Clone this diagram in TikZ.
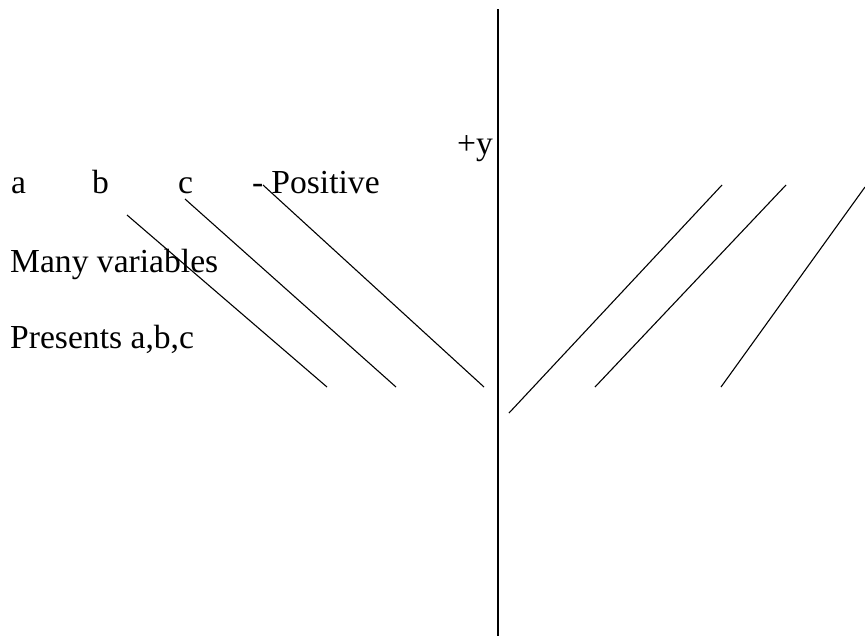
\documentclass[tikz,border=0pt]{standalone}
\usepackage{fontspec}
\setmainfont{Liberation Serif}
\begin{document}
\begin{tikzpicture}[x=1pt,y=-1pt,
  lbl/.style={anchor=base west,inner sep=0pt,font=\fontsize{33.6}{40}\selectfont},
  slant/.style={line width=1.1pt,line cap=butt},
  axis/.style={line width=1.6pt}]
\useasboundingbox (0,0) rectangle (865,638);
% vertical axis
\coordinate (ytop) at (498,9);
\coordinate (ybot) at (498,636);
\draw[axis] (ytop) -- (ybot);
% labels
\node[lbl] (ty) at (457,154) {+y};
\node[lbl] (ta) at (11,193) {a};
\node[lbl] (tb) at (92,193) {b};
\node[lbl] (tc) at (178,193) {c};
\node[lbl] (tp) at (252,193) {-\kern8pt Positive};
\node[lbl] (tm) at (10,272) {Many variables};
\node[lbl] (tq) at (10,348) {Presents a,b,c};
% left slanted lines
\coordinate (l1a) at (127,215); \coordinate (l1b) at (327,387);
\coordinate (l2a) at (185,199); \coordinate (l2b) at (396,387);
\coordinate (l3a) at (263,185); \coordinate (l3b) at (484,387);
\draw[slant] (l1a) -- (l1b);
\draw[slant] (l2a) -- (l2b);
\draw[slant] (l3a) -- (l3b);
% right slanted lines
\coordinate (r1a) at (509,413); \coordinate (r1b) at (722,185);
\coordinate (r2a) at (595,387); \coordinate (r2b) at (786,185);
\coordinate (r3a) at (721,387); \coordinate (r3b) at (865,187);
\draw[slant] (r1a) -- (r1b);
\draw[slant] (r2a) -- (r2b);
\draw[slant] (r3a) -- (r3b);
\end{tikzpicture}
\end{document}
